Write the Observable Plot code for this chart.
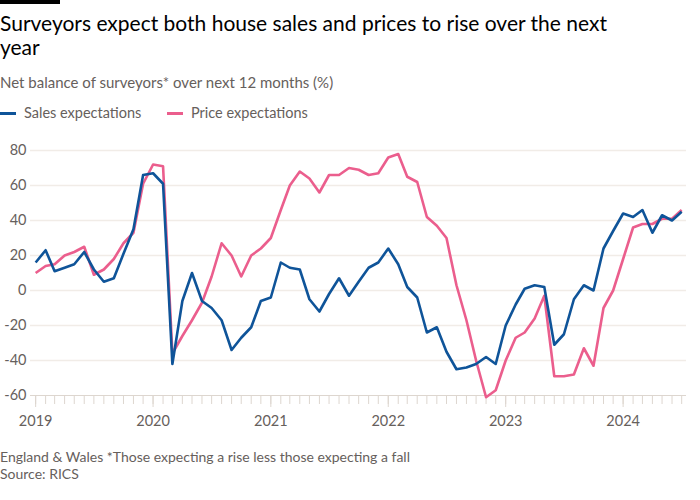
<!DOCTYPE html>
<html>
<head>
<meta charset="utf-8">
<script src="https://cdn.jsdelivr.net/npm/d3@7"></script>
<script src="https://cdn.jsdelivr.net/npm/@observablehq/plot@0.6"></script>
<style>
  html, body { margin: 0; padding: 0; background: #ffffff; }
  #wrap { position: relative; width: 700px; height: 500px; font-family: Lato, "Noto Sans", sans-serif; overflow: hidden; }
  .bar { position: absolute; left: 0; top: 0; width: 60px; height: 4px; background: #000; }
  .title { position: absolute; left: 0; top: 11px; font-size: 21px; line-height: 24px; color: #000; font-weight: 400; margin: 0; }
  .subtitle { position: absolute; left: 0; top: 73px; font-size: 15px; line-height: 18px; color: #66605c; }
  .legend { position: absolute; left: 0; top: 104px; font-size: 14.5px; line-height: 18px; color: #66605c; width: 700px; height: 18px; }
  .legend .item { position: absolute; top: 0; white-space: nowrap; }
  .legend .sw { position: absolute; top: 8px; width: 16px; height: 3px; }
  #chart { position: absolute; left: 0; top: 135px; }
  .footer { position: absolute; left: 0; top: 448px; font-size: 14px; line-height: 17px; color: #66605c; }
</style>
</head>
<body>
<div id="wrap">
  <div class="bar"></div>
  <h1 class="title">Surveyors expect both house sales and prices to rise over the next<br>year</h1>
  <div class="subtitle">Net balance of surveyors* over next 12 months (%)</div>
  <div class="legend" id="legend"></div>
  <div id="chart"></div>
  <div class="footer">England &amp; Wales *Those expecting a rise less those expecting a fall<br>Source: RICS</div>
</div>
<script>
// Monthly data, January 2019 to July 2024
const startMonth = "2019-01-01";
const monthCount = 67;
const seriesNames = ["Sales expectations", "Price expectations"];
const seriesColors = ["#0f5499", "#eb5e8d"];

const sales = [
  16, 23, 11, 13, 15, 22, 12, 5, 7, 21, 35, 66,
  67, 61, -42, -6, 10, -6, -10, -17, -34, -27, -21, -6,
  -4, 16, 13, 12, -5, -12, -2, 7, -3, 5, 13, 16,
  24, 15, 2, -4, -24, -21, -35, -45, -44, -42, -38, -42,
  -20, -8, 1, 3, 2, -31, -25, -5, 3, 0, 24, 34,
  44, 42, 46, 33, 43, 40, 45
];
const price = [
  10, 14, 15, 20, 22, 25, 9, 12, 18, 27, 33, 61,
  72, 71, -36, -26, -17, -7, 8, 27, 20, 8, 20, 24,
  30, 46, 60, 68, 64, 56, 66, 66, 70, 69, 66, 67,
  76, 78, 65, 62, 42, 37, 30, 3, -17, -40, -61, -57,
  -40, -27, -24, -16, -3, -49, -49, -48, -33, -43, -10, 0,
  18, 36, 38, 38, 41, 41, 46
];
const yTicks = [-60, -40, -20, 0, 20, 40, 60, 80];
const yearTicks = ["2019", "2020", "2021", "2022", "2023", "2024"];

const start = new Date(startMonth + "T00:00:00Z");
const months = d3.range(monthCount).map(i => d3.utcMonth.offset(start, i));
const years = yearTicks.map(y => new Date(y + "-01-01T00:00:00Z"));

const data = [];
months.forEach((d, i) => {
  data.push({date: d, series: seriesNames[1], value: price[i]});
});
months.forEach((d, i) => {
  data.push({date: d, series: seriesNames[0], value: sales[i]});
});

// legend
const legend = document.getElementById("legend");
const legendX = [0, 167];
seriesNames.forEach((name, i) => {
  const item = document.createElement("div");
  item.className = "item";
  item.style.left = legendX[i] + "px";
  item.innerHTML = `<span class="sw" style="left:0;background:${seriesColors[i]}"></span><span style="margin-left:24px">${name}</span>`;
  legend.appendChild(item);
});

const plot = Plot.plot({
  width: 700,
  height: 305,
  marginLeft: 30,
  marginRight: 14,
  marginTop: 15,
  marginBottom: 45,
  style: {fontFamily: "Lato, 'Noto Sans', sans-serif", fontSize: "14px", color: "#66605c", background: "transparent"},
  x: {type: "utc", domain: [new Date("2018-12-16T00:00:00Z"), new Date("2024-07-16T00:00:00Z")]},
  y: {domain: [-60, 80]},
  color: {domain: seriesNames, range: seriesColors},
  marks: [
    Plot.ruleY(yTicks.filter(d => d !== -60), {stroke: "#f1ece7", strokeWidth: 1.5}),
    Plot.ruleY([-60], {stroke: "#ddd6cf", strokeWidth: 1.2}),
    Plot.axisX(months, {tickSize: 9, fill: "none", stroke: "#ddd6cf", label: null}),
    Plot.axisX(years, {tickSize: 12, tickPadding: 8, tickFormat: d3.utcFormat("%Y"), stroke: "#ddd6cf", fill: "#66605c", fontSize: 14.5, label: null}),
    Plot.axisY(yTicks, {tickSize: 0, tickPadding: 4, tickFormat: d => String(d), fill: "#66605c", fontSize: 14.5, label: null}),
    Plot.line(data, {x: "date", y: "value", z: "series", stroke: "series", strokeWidth: 2.6, strokeLinejoin: "round", strokeLinecap: "butt"})
  ]
});
document.getElementById("chart").appendChild(plot);
</script>
</body>
</html>
